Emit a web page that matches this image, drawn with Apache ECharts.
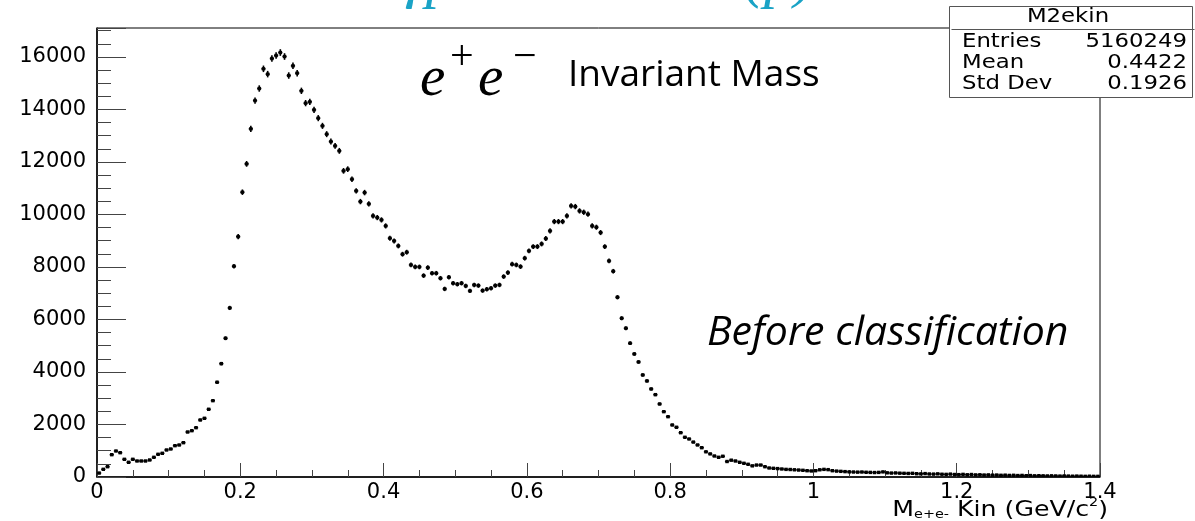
<!DOCTYPE html>
<html>
<head>
<meta charset="utf-8">
<title>M2ekin</title>
<script src="https://cdn.jsdelivr.net/npm/echarts@6.0.0/dist/echarts.min.js"></script>
<style>
  html, body { margin: 0; padding: 0; background: #fff; }
  #main { width: 1195px; height: 521px; }
</style>
</head>
<body>
<div id="main"></div>
<script>
// histogram: 238 bins from 0 to 1.4 GeV/c^2
var binLow = 0;
var binWidth = 1.4 / 238;

// bin contents
var countsRise = [150, 293, 392, 850, 990, 926, 674, 560, 674, 610, 610, 610, 648, 750, 865,
  903, 1029, 1067, 1193, 1219, 1307, 1714, 1764, 1878, 2172, 2236, 2579, 2907, 3608];
var countsPeak1 = [4317, 5284, 6439, 8027, 9155, 10847, 11925, 13259, 14337, 14795,
  15545, 15343, 15938, 16052, 16166, 16014, 15290, 15659, 15381, 14707,
  14238, 14288, 13983, 13667, 13373, 13057, 12775, 12611, 12421, 11659,
  11723, 11342, 10897, 10489];
var countsDip = [10832, 10401, 9944, 9880, 9792, 9563, 9094, 8992, 8801, 8484,
  8561, 8077, 8001, 8001, 7670, 7975, 7760, 7760, 7570, 7163,
  7608, 7380, 7342, 7380, 7277, 7087, 7315, 7290, 7099, 7151,
  7189, 7290, 7315, 7633, 7785, 8103, 8077, 8013];
var countsPeak2 = [8333, 8611, 8775, 8775, 8877, 9080, 9373, 9727, 9727, 9727,
  9944, 10325, 10299, 10134, 10083, 10007, 9563, 9512, 9309, 8775,
  8229, 7836, 6846];
var countsFall = [6046, 5665, 5094, 4686, 4381, 3886, 3658, 3353, 3136, 2781,
  2488, 2297, 1981, 1894, 1688, 1513, 1448];
var countsTail = [1330, 1220, 1116, 960, 880, 800, 750, 790, 590, 640,
  610, 560, 522, 484, 425, 455, 455, 392, 343, 331,
  320, 305, 290, 285, 275, 265, 255, 240, 230, 240,
  275, 290, 280, 240, 225, 215, 205, 195, 190, 185,
  190, 180, 175, 170, 175, 195, 160, 150, 155, 145,
  140, 135, 140, 125, 120, 130, 115, 110, 120, 105,
  100, 110, 95, 90, 100, 85, 95, 80, 85, 75,
  80, 70, 75, 65, 70, 60, 65, 55, 60, 50,
  55, 45, 50, 45, 40, 45, 40, 35, 40, 35,
  30, 35, 30, 25, 30, 25, 25];

var statTitle = 'M2ekin';
var statNames = ['Entries', 'Mean', 'Std Dev'];
var statValues = ['5160249', '0.4422', '0.1926'];

var counts = countsRise.concat(countsPeak1, countsDip, countsPeak2, countsFall, countsTail);
var points = [];
for (var i = 0; i < counts.length; i++) {
  points.push([binLow + (i + 0.5) * binWidth, counts[i]]);
}

var rootFont = 'DejaVu Sans';
var stretch = 1.2;   // the ROOT canvas was pasted a bit wide
var myChart = echarts.init(document.getElementById('main'));

// marker with error bars, like ROOT "E"
function renderBin(params, api) {
  var x = api.value(0);
  var y = api.value(1);
  var err = Math.sqrt(y);
  var c = api.coord([x, y]);
  var l = api.coord([x - binWidth / 2, y]);
  var r = api.coord([x + binWidth / 2, y]);
  var up = api.coord([x, y + err]);
  var dn = api.coord([x, y - err]);
  return {
    type: 'group',
    children: [
      { type: 'line', shape: { x1: l[0], y1: c[1], x2: r[0], y2: c[1] }, style: { stroke: '#000', lineWidth: 1.5 } },
      { type: 'line', shape: { x1: c[0], y1: up[1], x2: c[0], y2: dn[1] }, style: { stroke: '#000', lineWidth: 1.6 } },
      { type: 'rect', shape: { x: c[0] - 1.7, y: c[1] - 1.7, width: 3.4, height: 3.4 }, style: { fill: '#000' } }
    ]
  };
}

var statRows = [];
for (var k = 0; k < statNames.length; k++) {
  statRows.push({
    type: 'text', x: 962, y: 42 + k * 21, scaleX: stretch,
    style: { text: statNames[k], font: '19px "' + rootFont + '"', fill: '#000', verticalAlign: 'middle' }
  });
  statRows.push({
    type: 'text', x: 1187, y: 42 + k * 21, scaleX: stretch,
    style: { text: statValues[k], font: '19px "' + rootFont + '"', fill: '#000', align: 'right', verticalAlign: 'middle' }
  });
}

var option = {
  animation: false,
  grid: {
    left: 97, right: 95, top: 28, bottom: 44,
    show: true, borderColor: '#000', borderWidth: 1, backgroundColor: 'transparent'
  },
  xAxis: {
    type: 'value', min: 0, max: 1.4, interval: 0.2,
    axisLine: { show: true, lineStyle: { color: '#000', width: 1.5 } },
    axisTick: { show: true, inside: true, length: 14, lineStyle: { color: '#444' } },
    minorTick: { show: true, splitNumber: 4, length: 7, lineStyle: { color: '#444' } },
    splitLine: { show: false },
    axisLabel: { margin: 5, color: '#000', fontFamily: rootFont, fontSize: 21 }
  },
  yAxis: [{
    type: 'value', position: 'left', min: 0, max: 17100, interval: 2000,
    axisLine: { show: true, lineStyle: { color: '#000', width: 1.5 } },
    axisTick: { show: true, inside: true, length: 29, lineStyle: { color: '#444' } },
    splitLine: { show: false },
    axisLabel: {
      margin: 11, color: '#000', fontFamily: rootFont, fontSize: 21,
      formatter: function (v) { return v % 2000 === 0 ? String(v) : ''; }
    }
  }, {
    // short ticks every 500
    type: 'value', position: 'left', min: 0, max: 17100, interval: 500,
    axisLine: { show: false },
    axisTick: { show: true, inside: true, length: 14, lineStyle: { color: '#444' } },
    axisLabel: { show: false },
    splitLine: { show: false }
  }],
  series: [{
    name: 'M2ekin',
    type: 'custom',
    renderItem: renderBin,
    clip: true,
    data: points,
    encode: { x: 0, y: 1 }
  }],
  graphic: [
    // slide title, cut at the top
    { type: 'text', left: 402, top: -50, style: { text: 'γp →', font: 'italic 60px "Liberation Serif"', fill: '#1aa3c6' } },
    { type: 'text', left: 744, top: -50, style: { text: '(p)', font: 'italic 60px "Liberation Serif"', fill: '#1aa3c6' } },
    // e+e- Invariant Mass
    { type: 'text', left: 420, top: 52, style: { text: 'e', font: 'italic 57px "Liberation Serif"', fill: '#000' } },
    { type: 'text', left: 450, top: 37, style: { text: '+', font: '42px "Liberation Serif"', fill: '#000' } },
    { type: 'text', left: 478, top: 52, style: { text: 'e', font: 'italic 57px "Liberation Serif"', fill: '#000' } },
    { type: 'text', left: 513, top: 37, style: { text: '−', font: '42px "Liberation Serif"', fill: '#000' } },
    { type: 'text', left: 568, top: 57, style: { text: 'Invariant Mass', font: '37px "Open Sans"', fill: '#000' } },
    { type: 'text', left: 707, top: 313, style: { text: 'Before classification', font: 'italic 41px "Open Sans"', fill: '#000' } },
    // axis title
    {
      type: 'text', x: 1108, y: 497, scaleX: stretch,
      style: {
        text: '{a|M}{s|e+e-}{a| Kin (GeV/c}{p|2}{a|)}',
        align: 'right',
        rich: {
          a: { font: '21px "' + rootFont + '"', fill: '#000', verticalAlign: 'bottom', lineHeight: 24 },
          s: { font: '12px "' + rootFont + '"', fill: '#000', verticalAlign: 'bottom', lineHeight: 18 },
          p: { font: '12px "' + rootFont + '"', fill: '#000', verticalAlign: 'top', lineHeight: 24 }
        }
      }
    },
    // stats box
    {
      type: 'rect', left: 949, top: 6,
      shape: { width: 243, height: 91 },
      style: { fill: '#fff', stroke: '#555', lineWidth: 1 }
    },
    {
      type: 'line', left: 949, top: 27,
      shape: { x1: 0, y1: 0, x2: 243, y2: 0 },
      style: { stroke: '#555', lineWidth: 1 }
    },
    {
      type: 'text', x: 1068, y: 17, scaleX: stretch,
      style: { text: statTitle, font: '19px "' + rootFont + '"', fill: '#000', align: 'center', verticalAlign: 'middle' }
    }
  ].concat(statRows)
};

myChart.setOption(option);
</script>
</body>
</html>
